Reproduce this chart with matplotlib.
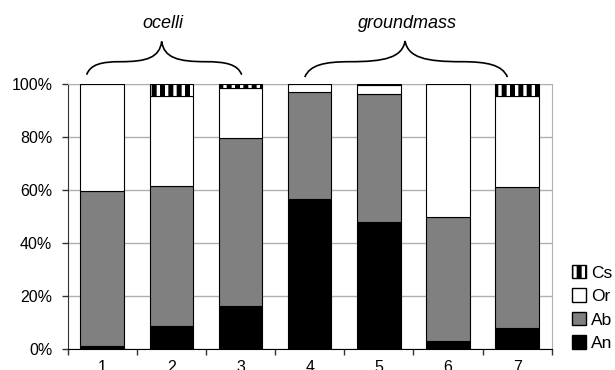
import matplotlib
matplotlib.use("Agg")
import matplotlib.pyplot as plt
import numpy as np
from matplotlib.patches import Patch, PathPatch
from matplotlib.path import Path

plt.rcParams['font.family'] = ['Liberation Sans', 'DejaVu Sans']
plt.rcParams['hatch.linewidth'] = 3.6

categories = ['1', '2', '3', '4', '5', '6', '7']
An = [1.2, 8.8, 16.5, 56.7, 47.8, 3.1, 8.2]
Ab = [58.4, 52.7, 63.1, 40.3, 48.4, 46.9, 52.9]
Or = [40.4, 33.8, 18.7, 3.0, 3.3, 50.0, 34.2]
Cs = [0.0, 4.7, 1.7, 0.0, 0.5, 0.0, 4.7]
yticks = [0, 20, 40, 60, 80, 100]
ytick_labels = ['0%', '20%', '40%', '60%', '80%', '100%']

fig = plt.figure(figsize=(6.15, 3.7), dpi=100)
ax = fig.add_axes([0.110, 0.056, 0.787, 0.717])

x = np.arange(len(categories))
w = 0.63
an = np.array(An); ab = np.array(Ab); orr = np.array(Or); cs = np.array(Cs)
ax.bar(x, an, w, color='black', edgecolor='black', linewidth=0.8, zorder=3)
ax.bar(x, ab, w, bottom=an, color='#808080', edgecolor='black', linewidth=0.8, zorder=3)
ax.bar(x, orr, w, bottom=an + ab, color='white', edgecolor='black', linewidth=0.8, zorder=3)
ax.bar(x, cs, w, bottom=an + ab + orr, color='white', edgecolor='black', hatch='||', linewidth=0.8, zorder=3)

ax.set_xlim(-0.5, len(categories) - 0.5)
ax.set_ylim(0, 100)
ax.set_yticks(yticks)
ax.set_yticklabels(ytick_labels, fontsize=11.5)
ax.yaxis.grid(True, color='#b0b0b0', linewidth=1.0, zorder=0)
ax.set_axisbelow(True)

ax.set_xticks(x)
ax.set_xticklabels(categories, fontsize=11.5)
ax.set_xticks(np.arange(-0.5, len(categories), 1.0), minor=True)
ax.tick_params(axis='x', which='major', length=0, pad=7.5)
ax.tick_params(axis='x', which='minor', length=4, width=1, color='#333333')
ax.tick_params(axis='y', length=4, width=1, color='#333333', pad=7)

ax.spines['top'].set_color('#b0b0b0')
ax.spines['right'].set_color('#b0b0b0')
ax.spines['left'].set_color('#333333')
ax.spines['bottom'].set_color('black')

# Braces
def brace(ax, x0, x1, xc, y0, y1, y2):
    d0 = xc - x0
    d1 = x1 - xc
    verts = [
        (x0, y0),
        (x0 + 0.05 * d0, y0 + 0.8 * (y1 - y0)), (x0 + 0.2 * d0, y1), (x0 + 0.45 * d0, y1),
        (xc - 0.2 * d0, y1), (xc - 0.03 * d0, y1 + 0.2 * (y2 - y1)), (xc, y2),
        (xc + 0.03 * d1, y1 + 0.2 * (y2 - y1)), (xc + 0.2 * d1, y1), (xc + 0.55 * d1, y1),
        (x1 - 0.2 * d1, y1), (x1 - 0.05 * d1, y0 + 0.8 * (y1 - y0)), (x1, y0),
    ]
    codes = [Path.MOVETO] + [Path.CURVE4] * 12
    p = PathPatch(Path(verts, codes), fill=False, edgecolor='black', linewidth=1.2,
                  clip_on=False, transform=ax.transData)
    ax.add_patch(p)

brace(ax, -0.225, 2.017, 0.86, 103.5, 108.4, 116.0)
brace(ax, 2.93, 5.86, 4.38, 102.6, 108.4, 116.2)
ax.text(0.88, 121.2, 'ocelli', style='italic', fontsize=13, ha='center', va='baseline')
ax.text(4.41, 121.2, 'groundmass', style='italic', fontsize=13, ha='center', va='baseline')

handles = [
    Patch(facecolor='white', edgecolor='black', hatch='||', label='Cs'),
    Patch(facecolor='white', edgecolor='black', label='Or'),
    Patch(facecolor='#808080', edgecolor='black', label='Ab'),
    Patch(facecolor='black', edgecolor='black', label='An'),
]
fig.legend(handles=handles, loc='lower left', bbox_to_anchor=(572 / 615, 19 / 370),
           frameon=False, fontsize=12.5, handlelength=0.8, handleheight=0.8,
           handletextpad=0.3, labelspacing=0.45, borderpad=0, borderaxespad=0)

fig.savefig('out.png', dpi=100)
